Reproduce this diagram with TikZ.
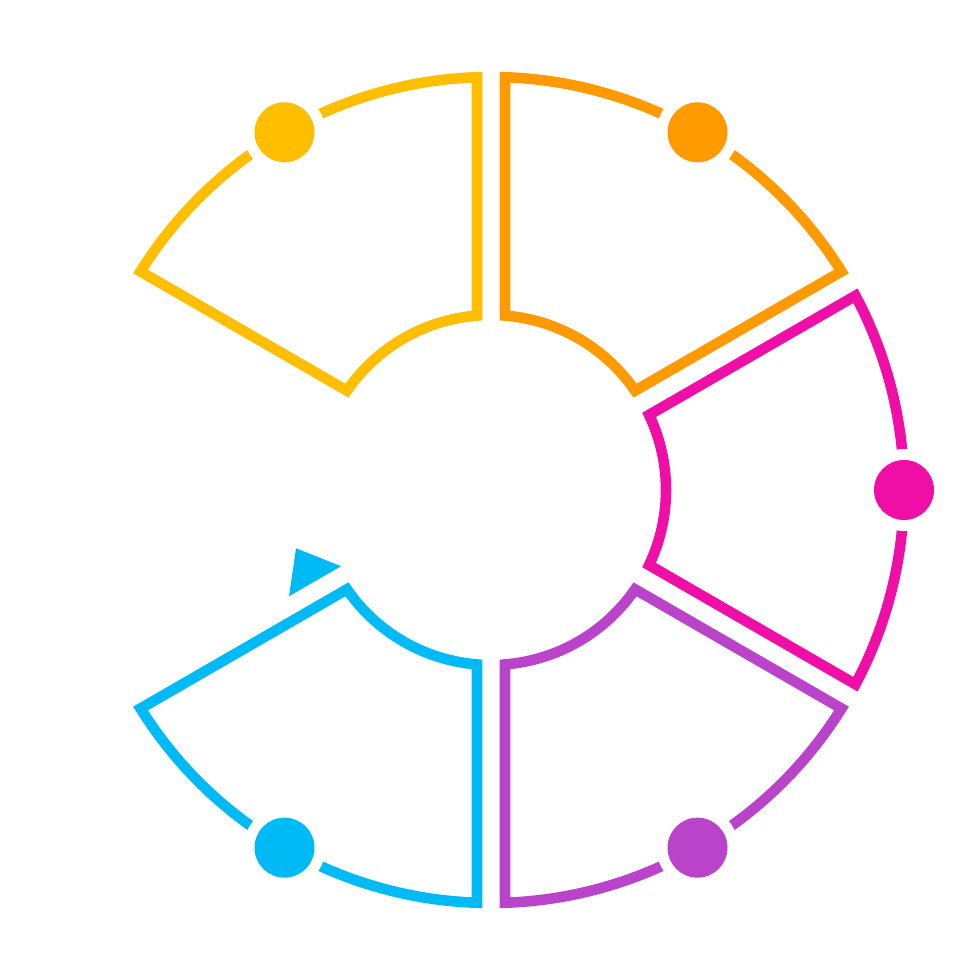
\documentclass[tikz,border=0pt]{standalone}
\usepackage{tikz}
\usetikzlibrary{calc}
\definecolor{segYellow}{HTML}{FFBE00}
\definecolor{segOrange}{HTML}{FF9A00}
\definecolor{segPink}{HTML}{EF0FA6}
\definecolor{segPurple}{HTML}{B944C9}
\definecolor{segBlue}{HTML}{00BAF5}

\begin{document}
\begin{tikzpicture}[x=0.01cm,y=0.01cm]
%Ring aus fuenf Sektoren zu je 60 Grad, links bleibt eine Luecke.
%Die Kanten sind um \gap parallel nach innen verschoben:
%               Winkel am Kreis = asin(\gap/Radius)
  \pgfmathsetmacro{\Rout}{413}
  \pgfmathsetmacro{\Rin}{175}
  \pgfmathsetmacro{\gap}{14}
  \pgfmathsetmacro{\dRout}{asin(\gap/\Rout)}
  \pgfmathsetmacro{\dRin}{asin(\gap/\Rin)}
\useasboundingbox (-491,-490) rectangle (489,490);
\foreach \a/\farbe in {90/segYellow,30/segOrange,-30/segPink,-90/segPurple,-150/segBlue}{
\draw[\farbe,line width=3pt] (\a+\dRout:\Rout) arc[start angle=\a+\dRout, end angle=\a+60-\dRout, radius=\Rout] -- (\a+60-\dRin:\Rin) arc[start angle=\a+60-\dRin, end angle=\a+\dRin, radius=\Rin] -- cycle;
\fill[white] (\a+30:\Rout) circle[radius=41];
\fill[\farbe] (\a+30:\Rout) circle[radius=30];
}
%Pfeilspitze in der Luecke
\fill[segBlue,rotate=210] (168,-9) -- (228,-9) -- (198,-47) -- cycle;
\end{tikzpicture}
\end{document}
